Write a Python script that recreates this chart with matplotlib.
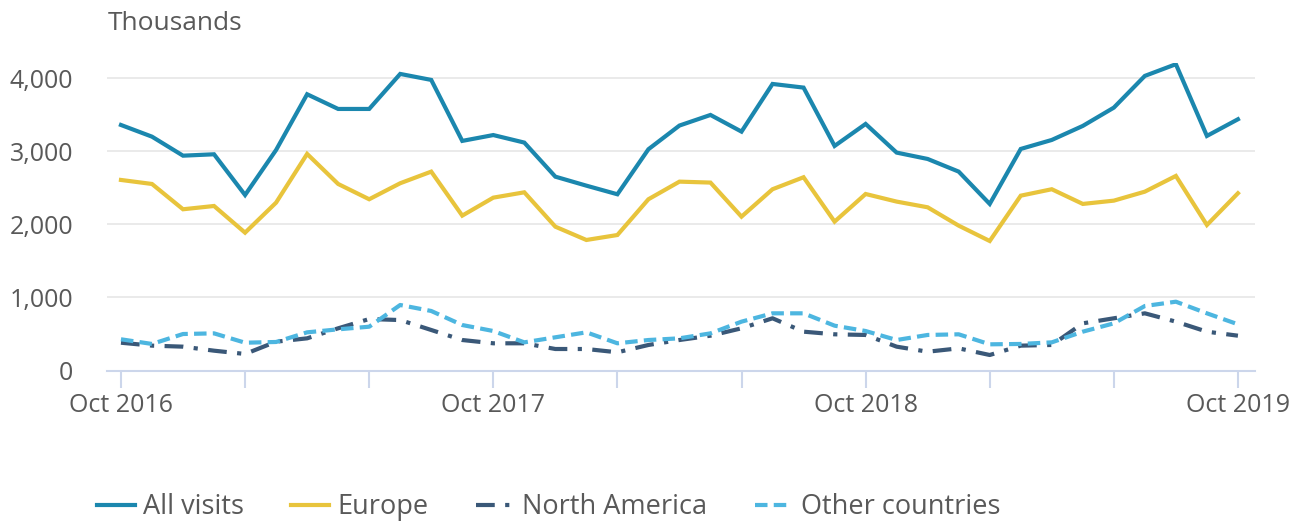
import matplotlib
matplotlib.use("Agg")
import matplotlib.pyplot as plt
from matplotlib.lines import Line2D

plt.rcParams['font.family'] = ['Open Sans', 'DejaVu Sans']

months = list(range(37))  # Oct 2016 .. Oct 2019
tick_labels = {0: "Oct 2016", 12: "Oct 2017", 24: "Oct 2018", 36: "Oct 2019"}

all_visits = [3358, 3198, 2938, 2957, 2400, 3016, 3778, 3577, 3577, 4056, 3974, 3140,
              3220, 3117, 2651, 2528, 2410, 3026, 3350, 3495, 3267, 3919, 3869, 3071,
              3372, 2980, 2893, 2720, 2278, 3030, 3153, 3345, 3595, 4029, 4189, 3208,
              3436]
europe = [2606, 2551, 2205, 2250, 1885, 2296, 2962, 2551, 2342, 2561, 2720, 2118,
          2364, 2437, 1967, 1785, 1853, 2342, 2583, 2570, 2104, 2479, 2643, 2036,
          2414, 2310, 2232, 1981, 1771, 2391, 2479, 2278, 2323, 2446, 2661, 1990,
          2424]
north_america = [380, 340, 326, 271, 226, 394, 440, 577, 704, 690, 554, 417,
                 372, 372, 294, 294, 249, 349, 417, 476, 577, 714, 531, 495,
                 486, 326, 257, 303, 212, 340, 349, 645, 714, 782, 668, 531,
                 476]
other_countries = [427, 363, 499, 508, 380, 390, 522, 563, 599, 896, 814, 622,
                   540, 385, 454, 522, 372, 417, 440, 508, 668, 782, 782, 613,
                   540, 417, 486, 495, 358, 363, 385, 531, 645, 882, 941, 782,
                   632]

c_all = "#1b87ae"
c_eu = "#e8c43c"
c_na = "#3a5878"
c_oth = "#4db6e0"
txt = "#595959"
axis_c = "#ccd6eb"

fig = plt.figure(figsize=(12.93, 5.26), dpi=100)
ax = fig.add_axes([107/1293, (526-370.5)/526, (1255-107)/1293, (370.5-63.4)/526])

lw = 3
na_style = (0, (4.5, 2.5, 1, 2.5))
oth_style = (0, (3, 1.5))
ax.plot(months, all_visits, color=c_all, lw=lw, solid_joinstyle='miter', zorder=5)
ax.plot(months, europe, color=c_eu, lw=lw, solid_joinstyle='miter', zorder=4)
ax.plot(months, north_america, color=c_na, lw=lw, linestyle=na_style, zorder=3)
ax.plot(months, other_countries, color=c_oth, lw=lw, linestyle=oth_style, zorder=3)

ax.set_xlim(-0.45, 36.55)
ax.set_ylim(0, 4200)
ax.set_yticks([0, 1000, 2000, 3000, 4000])
ax.set_yticklabels(["0", "1,000", "2,000", "3,000", "4,000"])
ax.yaxis.grid(True, color="#e6e6e6", lw=1.2)
ax.set_axisbelow(True)
for s in ["top", "right", "left"]:
    ax.spines[s].set_visible(False)
ax.spines["bottom"].set_color(axis_c)
ax.spines["bottom"].set_linewidth(1.5)
ax.tick_params(axis='y', length=0, labelsize=18, labelcolor=txt, pad=24.5)
for lab in ax.get_yticklabels():
    lab.set_horizontalalignment('right')

ax.set_xticks(list(range(0, 37, 4)))
ax.set_xticklabels([tick_labels.get(m, "") for m in range(0, 37, 4)])
ax.tick_params(axis='x', length=12, width=1.5, color=axis_c, labelsize=18,
               labelcolor=txt, pad=4)

fig.text(108/1293, 1 - 24/526, "Thousands", fontsize=19, color=txt, va='center', ha='left')

handles = [
    Line2D([], [], color=c_all, lw=lw),
    Line2D([], [], color=c_eu, lw=lw),
    Line2D([], [], color=c_na, lw=lw, linestyle=na_style),
    Line2D([], [], color=c_oth, lw=lw, linestyle=oth_style),
]
labels = ["All visits", "Europe", "North America", "Other countries"]
fig.legend(handles, labels, loc='center left', bbox_to_anchor=(97/1293, 1 - 507/526),
           ncol=4, frameon=False, fontsize=19.5, labelcolor=txt,
           handlelength=1.4, handletextpad=0.3, columnspacing=1.75, borderaxespad=0,
           borderpad=0)

fig.savefig("out.png", dpi=100)
